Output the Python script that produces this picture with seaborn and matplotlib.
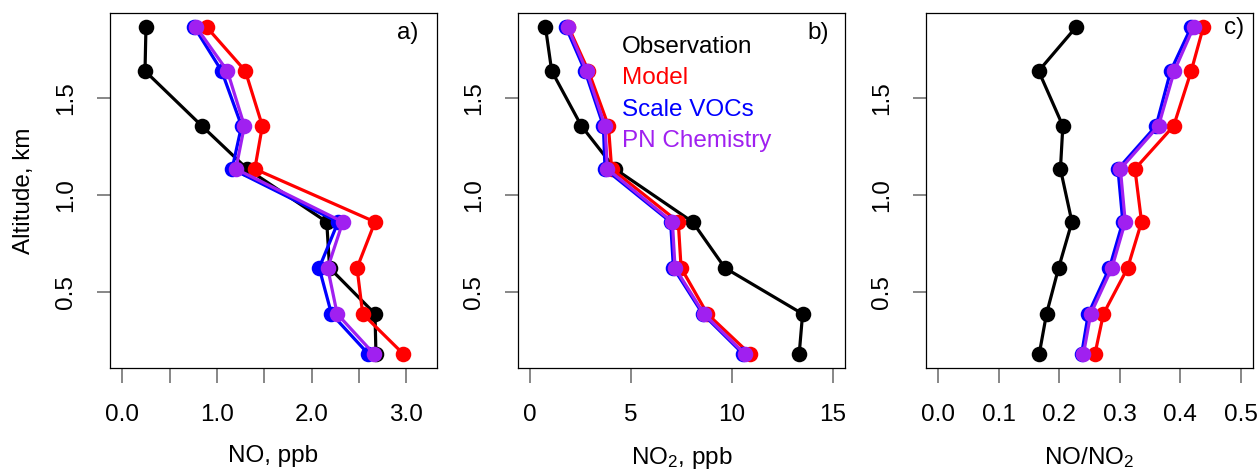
import matplotlib
matplotlib.use("Agg")
import matplotlib.pyplot as plt
import seaborn as sns
import pandas as pd

# altitude bins, km
altitude = [1.866, 1.639, 1.356, 1.134, 0.861, 0.624, 0.387, 0.180]

series_names = ["Observation", "Model", "Scale VOCs", "PN Chemistry"]
series_colors = ["black", "#FF0000", "#0000FF", "#A020F0"]

# panel a: NO, ppb
no_obs = [0.25, 0.24, 0.84, 1.32, 2.16, 2.19, 2.67, 2.68]
no_model = [0.89, 1.30, 1.48, 1.40, 2.67, 2.48, 2.54, 2.97]
no_scale = [0.76, 1.05, 1.26, 1.16, 2.28, 2.08, 2.21, 2.60]
no_pn = [0.78, 1.11, 1.29, 1.20, 2.33, 2.17, 2.27, 2.66]

# panel b: NO2, ppb
no2_obs = [0.76, 1.07, 2.54, 4.21, 8.05, 9.65, 13.5, 13.33]
no2_model = [1.90, 2.89, 3.88, 4.04, 7.34, 7.48, 8.78, 10.89]
no2_scale = [1.77, 2.72, 3.63, 3.71, 6.96, 7.10, 8.55, 10.56]
no2_pn = [1.86, 2.80, 3.71, 3.83, 7.05, 7.18, 8.61, 10.64]

# panel c: NO/NO2
ratio_obs = [0.228, 0.166, 0.206, 0.202, 0.221, 0.199, 0.179, 0.167]
ratio_model = [0.438, 0.418, 0.389, 0.325, 0.336, 0.313, 0.273, 0.259]
ratio_scale = [0.418, 0.384, 0.360, 0.297, 0.305, 0.283, 0.248, 0.237]
ratio_pn = [0.422, 0.390, 0.364, 0.301, 0.309, 0.287, 0.252, 0.240]

# axis settings per panel
xticks_a = [0.0, 0.5, 1.0, 1.5, 2.0, 2.5, 3.0]
xlabels_a = ["0.0", "", "1.0", "", "2.0", "", "3.0"]
xticks_b = [0, 5, 10, 15]
xlabels_b = ["0", "5", "10", "15"]
xticks_c = [0.0, 0.1, 0.2, 0.3, 0.4, 0.5]
xlabels_c = ["0.0", "0.1", "0.2", "0.3", "0.4", "0.5"]
yticks = [0.5, 1.0, 1.5]
ylabels = ["0.5", "1.0", "1.5"]

sns.set_style("ticks")
plt.rcParams["font.family"] = ["Liberation Sans", "DejaVu Sans"]
plt.rcParams["mathtext.fontset"] = "custom"
plt.rcParams["mathtext.rm"] = "Liberation Sans"
plt.rcParams["mathtext.it"] = "Liberation Sans:italic"
plt.rcParams["text.color"] = "black"
plt.rcParams["axes.labelcolor"] = "black"
plt.rcParams["xtick.labelcolor"] = "black"
plt.rcParams["ytick.labelcolor"] = "black"

FS = 17.5


def long_table(values):
    # build a long DataFrame for one panel
    frames = []
    for _name, _vals in zip(series_names, values):
        frames.append(pd.DataFrame({"x": _vals, "alt": altitude, "series": _name}))
    return pd.concat(frames, ignore_index=True)


panels = [
    dict(values=[no_obs, no_model, no_scale, no_pn], xlim=(-0.13, 3.325),
         xticks=xticks_a, xlabels=xlabels_a, xlabel="NO, ppb", tag="a)",
         tagpos=(0.943, 0.944), left=110),
    dict(values=[no2_obs, no2_model, no2_scale, no2_pn], xlim=(-0.6, 15.6),
         xticks=xticks_b, xlabels=xlabels_b, xlabel="NO$_2$, ppb", tag="b)",
         tagpos=(0.951, 0.944), left=518),
    dict(values=[ratio_obs, ratio_model, ratio_scale, ratio_pn], xlim=(-0.02, 0.52),
         xticks=xticks_c, xlabels=xlabels_c, xlabel="NO/NO$_2$", tag="c)",
         tagpos=(0.972, 0.958), left=926),
]

W, H = 1259, 473
fig = plt.figure(figsize=(W / 100, H / 100), dpi=100)
palette = dict(zip(series_names, series_colors))

for _i, _p in enumerate(panels):
    ax = fig.add_axes([_p["left"] / W, 1 - 368 / H, 327 / W, 355 / H])
    df = long_table(_p["values"])
    sns.lineplot(
        data=df, x="x", y="alt", hue="series", hue_order=series_names,
        palette=palette, sort=False, estimator=None, marker="o",
        markersize=11.2, markeredgewidth=0, linewidth=2.3,
        legend=(_i == 1), ax=ax
    )
    ax.set_xlim(*_p["xlim"])
    ax.set_ylim(0.108, 1.938)
    ax.set_xticks(_p["xticks"])
    ax.set_xticklabels(_p["xlabels"], fontsize=FS)
    ax.set_yticks(yticks)
    ax.set_yticklabels(ylabels, fontsize=FS, rotation=90, va="center")
    ax.tick_params(axis="x", length=11, width=1.2, color="0.45", pad=15)
    ax.tick_params(axis="y", length=9.5, width=1.2, color="0.45", pad=14)
    for _s in ax.spines.values():
        _s.set_visible(True)
        _s.set_color("black")
        _s.set_linewidth(0.9)
    ax.set_xlabel(_p["xlabel"], fontsize=FS)
    ax.xaxis.set_label_coords(0.5, -0.216)
    if _i == 0:
        ax.set_ylabel("Altitude, km", fontsize=FS)
        ax.yaxis.set_label_coords(-0.228, 0.5)
    else:
        ax.set_ylabel("")
    ax.text(*_p["tagpos"], _p["tag"], transform=ax.transAxes,
            ha="right", va="center", fontsize=FS)
    if _i == 1:
        handles, labels = ax.get_legend_handles_labels()
        leg = ax.legend(handles, labels, loc="upper left",
                        bbox_to_anchor=(0.288, 0.962), frameon=False,
                        handlelength=0, handletextpad=0, fontsize=FS,
                        labelspacing=0.38, borderaxespad=0)
        for _h in leg.legend_handles:
            _h.set_visible(False)
        for _t, _c in zip(leg.get_texts(), series_colors):
            _t.set_color(_c)

plt.savefig("out.png", dpi=100)
